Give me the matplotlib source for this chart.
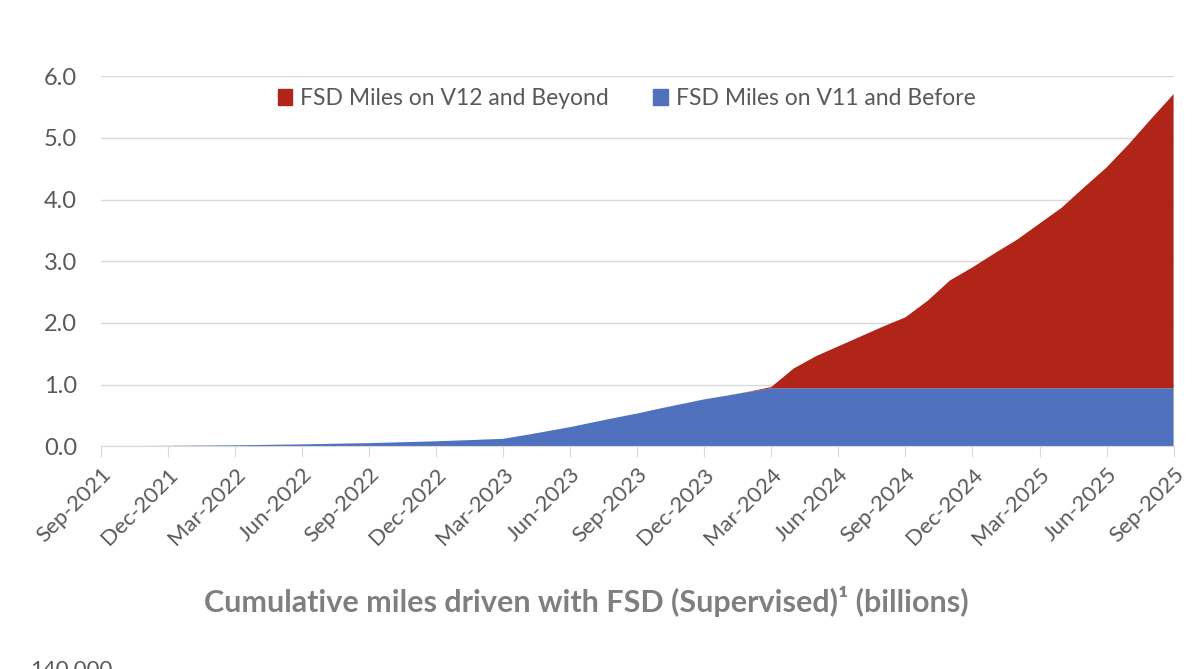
import matplotlib.pyplot as plt
from matplotlib.patches import Patch

# monthly, Sep-2021 .. Sep-2025
months = ['Sep-2021', 'Oct-2021', 'Nov-2021', 'Dec-2021', 'Jan-2022', 'Feb-2022', 'Mar-2022',
          'Apr-2022', 'May-2022', 'Jun-2022', 'Jul-2022', 'Aug-2022', 'Sep-2022', 'Oct-2022',
          'Nov-2022', 'Dec-2022', 'Jan-2023', 'Feb-2023', 'Mar-2023', 'Apr-2023', 'May-2023',
          'Jun-2023', 'Jul-2023', 'Aug-2023', 'Sep-2023', 'Oct-2023', 'Nov-2023', 'Dec-2023',
          'Jan-2024', 'Feb-2024', 'Mar-2024', 'Apr-2024', 'May-2024', 'Jun-2024', 'Jul-2024',
          'Aug-2024', 'Sep-2024', 'Oct-2024', 'Nov-2024', 'Dec-2024', 'Jan-2025', 'Feb-2025',
          'Mar-2025', 'Apr-2025', 'May-2025', 'Jun-2025', 'Jul-2025', 'Aug-2025', 'Sep-2025']

# billions of miles
v11_before = [0.0, 0.002, 0.004, 0.006, 0.009, 0.012, 0.015,
              0.02, 0.025, 0.03, 0.037, 0.044, 0.05, 0.06,
              0.07, 0.08, 0.093, 0.106, 0.12, 0.18, 0.245,
              0.31, 0.385, 0.46, 0.53, 0.61, 0.685, 0.76,
              0.82, 0.88, 0.94, 0.94, 0.94, 0.94, 0.94,
              0.94, 0.94, 0.94, 0.94, 0.94, 0.94, 0.94,
              0.94, 0.94, 0.94, 0.94, 0.94, 0.94, 0.94]
v12_beyond = [0.0] * 29 + [0.005, 0.02, 0.32, 0.52, 0.68, 0.84,
                           1.0, 1.15, 1.42, 1.75, 1.96, 2.19, 2.41,
                           2.67, 2.93, 3.26, 3.58, 3.96, 4.37, 4.77]

tick_every = 3
y_ticks = [0, 1, 2, 3, 4, 5, 6]

RED = '#b12418'
BLUE = '#5072be'
TEXT = '#595959'

plt.rcParams['font.family'] = ['Lato', 'DejaVu Sans']

fig = plt.figure(figsize=(12, 6.69), dpi=100)
ax = fig.add_axes([0.084, 0.333, 0.894, 0.553])

x = list(range(len(months)))
ax.stackplot(x, v11_before, v12_beyond, colors=[BLUE, RED], linewidth=0)

ax.set_xlim(0, len(months) - 1)
ax.set_ylim(0, 6)
ax.set_yticks(y_ticks)
ax.set_yticklabels(['%.1f' % v for v in y_ticks])
ax.set_xticks(x[::tick_every])
ax.set_xticklabels(months[::tick_every], rotation=45, ha='right', rotation_mode='anchor')

ax.grid(axis='y', color='#d9d9d9', linewidth=1)
ax.set_axisbelow(True)
for side in ['top', 'right', 'left']:
    ax.spines[side].set_visible(False)
ax.spines['bottom'].set_color('#d9d9d9')
ax.tick_params(axis='y', length=0, labelsize=17, labelcolor=TEXT, pad=17)
ax.tick_params(axis='x', length=8, color='#d9d9d9', labelsize=16, labelcolor=TEXT, pad=5)

handles = [Patch(color=RED, label='FSD Miles on V12 and Beyond'),
           Patch(color=BLUE, label='FSD Miles on V11 and Before')]
ax.legend(handles=handles, loc='center', bbox_to_anchor=(0.49, 0.94), ncol=2, frameon=False,
          fontsize=16.5, labelcolor=TEXT, handlelength=0.65, handleheight=0.65,
          handletextpad=0.35, columnspacing=1.9)

fig.text(0.489, 0.101, 'Cumulative miles driven with FSD (Supervised)¹ (billions)',
         ha='center', va='center', fontsize=22, fontweight='bold', color='#7f7f7f')
fig.text(0.025, 0.0, '140,000', ha='left', va='center', fontsize=16, color=TEXT)

fig.savefig('out.png', dpi=100)
